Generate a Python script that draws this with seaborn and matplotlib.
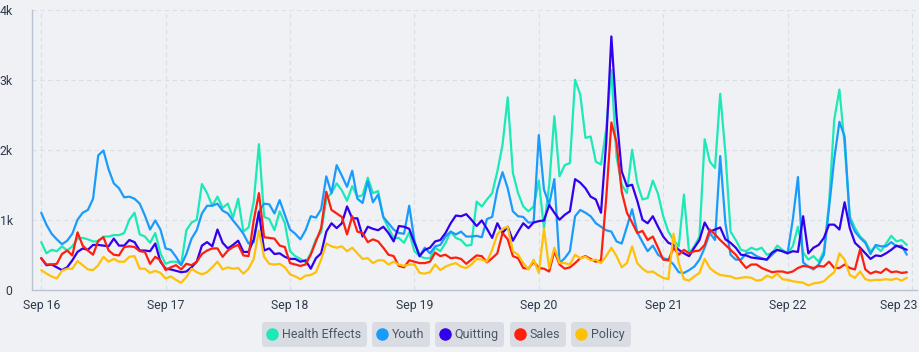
import numpy as np
import pandas as pd
import matplotlib
matplotlib.use("Agg")
import matplotlib.pyplot as plt
import matplotlib.transforms as mtransforms
from matplotlib.lines import Line2D
import seaborn as sns

# ---------------- data (thousands of mentions per hour) ----------------
start = "2023-09-16 00:00"
series_names = ["Health Effects", "Youth", "Quitting", "Sales", "Policy"]
colors = ["#1de9b6", "#1a9bfc", "#3300ee", "#ff1f0f", "#ffc107"]

health_effects = [
    0.68,0.52,0.57,0.55,0.62,0.56,0.62,0.73,0.74,0.72,0.69,0.69,0.76,0.76,0.78,0.78,0.81,1.00,1.10,0.79,0.76,0.67,0.81,0.52,
    0.37,0.40,0.40,0.36,0.85,0.96,1.00,1.51,1.38,1.20,1.33,1.17,1.23,1.03,1.30,0.83,0.89,1.26,2.08,1.04,1.01,0.85,1.12,0.95,
    0.55,0.48,0.44,0.39,0.52,0.72,0.82,1.30,1.38,1.52,1.42,1.27,1.48,1.33,1.35,1.60,1.38,1.41,1.03,0.88,0.74,0.74,0.67,0.82,
    0.55,0.48,0.45,0.45,0.60,0.55,0.67,0.83,0.74,0.71,0.63,0.64,1.26,1.19,1.29,1.38,1.69,2.07,2.75,1.67,1.38,1.19,1.12,1.19,
    1.56,0.88,1.50,2.48,1.62,1.78,1.81,3.00,2.79,2.17,2.19,1.83,1.79,2.29,3.14,1.90,1.50,1.38,2.00,1.52,1.29,1.31,1.56,1.37,
    1.05,0.83,0.71,0.62,1.36,0.52,0.62,0.76,2.15,1.83,1.74,2.80,1.95,0.83,0.71,0.57,0.55,0.60,0.57,0.60,0.50,0.52,0.63,0.57,
    0.52,0.62,0.90,0.53,0.43,0.48,0.40,0.55,1.24,2.43,2.86,2.07,1.05,0.88,0.76,0.69,0.55,0.62,0.55,0.66,0.77,0.69,0.71,0.64,
]
youth = [
    1.10,0.93,0.80,0.72,0.65,0.70,0.80,1.00,1.10,1.14,1.30,1.92,1.99,1.72,1.52,1.45,1.32,1.33,1.30,1.23,1.06,0.86,0.99,0.86,
    0.59,0.57,0.47,0.35,0.51,0.73,0.85,1.09,1.20,1.20,1.23,1.13,1.09,0.99,0.90,0.80,0.66,0.68,1.12,1.23,1.22,1.09,1.28,1.07,
    0.86,0.80,0.72,0.85,1.05,1.03,1.15,1.62,1.38,1.78,1.63,1.47,1.70,1.30,1.24,1.55,1.25,1.36,1.04,0.95,0.86,0.81,0.80,1.20,
    0.70,0.48,0.60,0.52,0.62,0.64,0.76,0.83,0.79,0.83,0.76,0.76,0.77,0.75,1.01,1.04,1.43,1.68,1.45,1.12,1.05,1.04,0.96,0.96,
    2.21,1.43,1.22,1.58,0.38,0.45,0.55,1.05,1.14,1.10,1.05,0.95,0.90,0.85,0.83,0.69,0.66,0.90,1.15,0.82,0.68,0.55,0.63,0.50,
    0.45,0.43,0.36,0.25,0.24,0.28,0.33,0.43,0.60,0.81,0.71,1.91,0.95,0.50,0.43,0.43,0.52,0.53,0.48,0.45,0.43,0.50,0.57,0.55,
    0.52,1.00,1.61,0.39,0.33,0.29,0.36,0.50,1.17,1.87,2.40,2.19,1.00,0.83,0.74,0.67,0.51,0.64,0.62,0.62,0.68,0.62,0.63,0.50,
]
quitting = [
    0.45,0.35,0.36,0.32,0.28,0.32,0.42,0.54,0.59,0.57,0.64,0.64,0.63,0.62,0.73,0.63,0.63,0.71,0.68,0.56,0.56,0.55,0.66,0.40,
    0.30,0.29,0.27,0.25,0.26,0.32,0.40,0.63,0.68,0.62,0.86,0.67,0.59,0.64,0.70,0.54,0.54,0.72,1.11,0.56,0.59,0.51,0.52,0.47,
    0.44,0.44,0.40,0.42,0.30,0.45,0.52,0.83,0.95,0.88,0.95,1.19,1.02,1.02,0.76,0.90,0.87,0.85,0.90,0.81,0.69,0.91,0.90,0.87,
    0.67,0.48,0.57,0.60,0.69,0.71,0.81,0.95,1.06,1.05,1.08,1.00,0.91,0.99,0.87,0.74,0.95,0.81,0.90,0.70,0.83,0.95,0.88,0.96,
    0.98,0.99,1.21,1.10,1.00,1.07,1.12,1.58,1.53,1.45,1.33,1.29,1.10,2.10,3.62,2.48,1.69,1.48,1.50,1.27,1.00,0.95,1.05,0.90,
    0.76,0.67,0.64,0.57,0.52,0.48,0.60,0.71,0.96,0.83,0.86,0.89,0.72,0.67,0.60,0.50,0.49,0.46,0.45,0.44,0.43,0.53,0.57,0.55,
    0.52,0.55,0.54,1.05,0.52,0.60,0.64,0.74,0.93,0.93,0.86,1.25,0.88,0.67,0.60,0.52,0.44,0.49,0.48,0.52,0.57,0.63,0.60,0.57,
]
sales = [
    0.45,0.36,0.36,0.37,0.51,0.56,0.49,0.82,0.63,0.56,0.50,0.70,0.75,0.56,0.50,0.49,0.61,0.62,0.61,0.55,0.54,0.37,0.47,0.42,
    0.28,0.32,0.35,0.29,0.37,0.35,0.40,0.51,0.56,0.59,0.59,0.47,0.56,0.61,0.64,0.49,0.48,0.99,1.38,0.75,0.74,0.73,0.63,0.61,
    0.38,0.36,0.34,0.36,0.50,0.69,0.88,1.40,1.14,1.09,1.04,0.79,1.05,0.83,0.81,0.68,0.72,0.69,0.60,0.50,0.48,0.34,0.32,0.42,
    0.40,0.38,0.38,0.40,0.53,0.48,0.50,0.45,0.46,0.44,0.37,0.43,0.49,0.48,0.39,0.45,0.52,0.81,0.72,0.48,0.45,0.31,0.30,0.40,
    0.31,0.30,0.26,0.55,0.36,0.30,0.32,0.38,0.45,0.48,0.44,0.40,0.42,1.30,2.39,2.10,1.40,1.10,0.96,0.81,0.84,0.71,0.76,0.60,
    0.43,0.42,0.60,0.50,0.57,0.52,0.55,0.56,0.64,0.86,0.79,0.71,0.64,0.57,0.50,0.40,0.31,0.36,0.36,0.31,0.28,0.25,0.26,0.26,
    0.24,0.26,0.31,0.34,0.33,0.31,0.34,0.33,0.40,0.31,0.31,0.36,0.31,0.29,0.58,0.29,0.23,0.26,0.24,0.30,0.25,0.26,0.24,0.25,
]
policy = [
    0.28,0.23,0.19,0.16,0.27,0.30,0.30,0.41,0.35,0.29,0.28,0.35,0.47,0.40,0.44,0.40,0.40,0.47,0.48,0.30,0.30,0.24,0.27,0.24,
    0.16,0.19,0.14,0.10,0.18,0.30,0.25,0.22,0.25,0.32,0.40,0.29,0.32,0.30,0.31,0.23,0.30,0.44,0.85,0.47,0.37,0.36,0.37,0.32,
    0.22,0.19,0.15,0.20,0.21,0.25,0.43,0.66,0.62,0.60,0.62,0.55,0.60,0.52,0.44,0.45,0.38,0.42,0.42,0.36,0.40,0.36,0.34,0.36,
    0.36,0.24,0.23,0.25,0.36,0.28,0.33,0.36,0.38,0.33,0.31,0.36,0.44,0.43,0.40,0.57,0.79,0.87,0.90,0.55,0.50,0.38,0.29,0.43,
    0.24,0.87,0.31,0.60,0.38,0.38,0.36,0.50,0.45,0.47,0.42,0.43,0.38,0.48,0.60,0.48,0.32,0.38,0.62,0.38,0.30,0.25,0.26,0.21,
    0.17,0.15,0.80,0.38,0.15,0.13,0.19,0.24,0.44,0.31,0.25,0.21,0.20,0.19,0.16,0.17,0.18,0.17,0.13,0.14,0.20,0.17,0.23,0.15,
    0.14,0.12,0.11,0.10,0.06,0.09,0.10,0.12,0.19,0.25,0.52,0.43,0.21,0.17,0.26,0.15,0.13,0.14,0.14,0.15,0.14,0.16,0.13,0.17,
]
tick_labels = ["Sep 16", "Sep 17", "Sep 18", "Sep 19", "Sep 20", "Sep 21", "Sep 22", "Sep 23"]
y_labels = ["0", "1k", "2k", "3k", "4k"]

# ---------------- build table ----------------
times = pd.date_range(start, periods=len(health_effects), freq="h")
values = [health_effects, youth, quitting, sales, policy]
df = pd.concat(
    [pd.DataFrame({"time": times, "count": np.array(v) * 1000, "topic": n})
     for n, v in zip(series_names, values)],
    ignore_index=True,
)

# ---------------- style ----------------
bg = "#eff1f4"
text_col = "#2e3a4c"
sns.set_theme(style="white")
plt.rcParams["font.family"] = ["Roboto", "DejaVu Sans"]

fig = plt.figure(figsize=(9.19, 3.52), dpi=100, facecolor=bg)
ax = fig.add_axes([0.035, 0.177, 0.963, 0.795])
ax.set_facecolor(bg)

sns.lineplot(data=df, x="time", y="count", hue="topic", hue_order=series_names,
             palette=colors, linewidth=1.6, ax=ax, legend=False)

ax.set_ylim(0, 4000)
ax.set_xlim(pd.Timestamp("2023-09-15 22:15"), pd.Timestamp("2023-09-23 01:00"))
ax.set_yticks([0, 1000, 2000, 3000, 4000])
ax.set_yticklabels(y_labels)
ticks = pd.date_range("2023-09-16", periods=len(tick_labels), freq="D")
ax.set_xticks(ticks)
ax.set_xticklabels(tick_labels)

ax.grid(True, linestyle=(0, (4, 3)), color="#dadfe7", linewidth=0.8)
for s in ["top", "right"]:
    ax.spines[s].set_visible(False)
for s in ["left", "bottom"]:
    ax.spines[s].set_color("#b9c3d3")
    ax.spines[s].set_linewidth(1.0)
ax.tick_params(axis="x", length=4, color="#b9c3d3", colors=text_col, labelsize=8.8, pad=3)
ax.tick_params(axis="y", length=0, colors=text_col, labelsize=8.8, pad=14)
ax.set_xlabel("")
ax.set_ylabel("")

# keep the last date label inside the figure (shifted left like the original)
last = ax.get_xticklabels()[-1]
last.set_transform(last.get_transform() +
                   mtransforms.ScaledTranslation(-13 / 100, 0, fig.dpi_scale_trans))

# ---------------- legend: one rounded pill per series ----------------
centers = [0.342, 0.436, 0.511, 0.585, 0.654]
for name, col, cx in zip(series_names, colors, centers):
    h = Line2D([], [], marker="o", linestyle="none", markersize=8,
               markerfacecolor=col, markeredgecolor=col)
    leg = fig.legend([h], [name], loc="center", bbox_to_anchor=(cx, 0.05),
                     frameon=True, fancybox=True, fontsize=9,
                     handlelength=0.7, handletextpad=0.45, borderpad=0.45,
                     borderaxespad=0, labelcolor="#4a5566")
    fr = leg.get_frame()
    fr.set_facecolor("#d9dde3")
    fr.set_edgecolor("none")
    fr.set_alpha(1)
    fr.set_boxstyle("round", pad=0.0, rounding_size=0.25)

fig.savefig("out.png", dpi=100, facecolor=bg)
